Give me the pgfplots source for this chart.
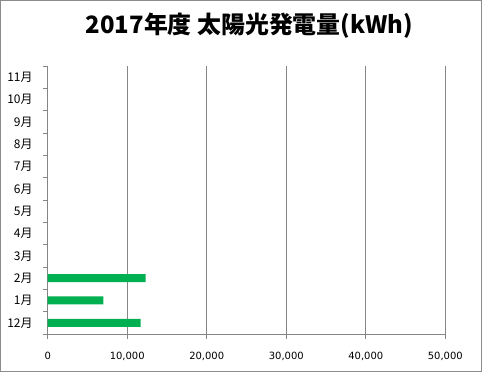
\documentclass[border=0pt]{standalone}
\usepackage{pgfplots}
\pgfplotsset{compat=1.18}
\usepackage{fontspec}
\setmainfont{DejaVu Sans}
\newfontfamily\jp{Noto Sans CJK JP}
\definecolor{barg}{RGB}{0,176,80}
\definecolor{axgray}{RGB}{134,134,134}
\definecolor{framegray}{RGB}{140,140,140}
\begin{document}
\begin{tikzpicture}
\useasboundingbox (-47.7bp,-38bp) rectangle (434.3bp,334bp);
\draw[framegray, line width=1bp] (-47.2bp,-37.5bp) rectangle (433.8bp,333.5bp);
\begin{axis}[
  scale only axis, width=397.6bp, height=268bp,
  at={(0,0)}, anchor=south west,
  xbar, bar width=8bp,
  xmin=0, xmax=50000, ymin=-0.5, ymax=11.5,
  xtick={0,10000,20000,30000,40000,50000},
  scaled x ticks=false,
  /pgf/number format/.cd, 1000 sep={,}, assume math mode=true, /pgfplots/.cd,
  ytick={0,...,11},
  yticklabels={12月,1月,2月,3月,4月,5月,6月,7月,8月,9月,10月,11月},
  minor ytick={-0.5,0.5,...,11.5},
  axis x line*=bottom, axis y line*=left,
  axis line style={color=axgray, line width=0.9bp},
  xmajorgrids,
  major grid style={color=axgray, line width=0.9bp},
  tick align=outside,
  major tick length=4.5bp, minor tick length=4.5bp,
  every tick/.style={color=axgray, line width=0.9bp},
  every major y tick/.style={draw=none},
  yticklabel style={font=\jp\fontsize{12}{12}\selectfont, anchor=east, inner sep=0pt, xshift=-10.5bp},
  xticklabel style={font=\fontsize{10}{10}\selectfont, anchor=center, inner sep=0pt, yshift=-17.7bp},
  title={2017年度 太陽光発電量(kWh)},
  title style={font=\jp\bfseries\fontsize{24}{24}\selectfont, at={(0.5075,1.127)}, anchor=center, inner sep=0pt},
]
\addplot[fill=barg, draw=none] coordinates {(11700,0) (7000,1) (12300,2)};
\end{axis}
\end{tikzpicture}
\end{document}
